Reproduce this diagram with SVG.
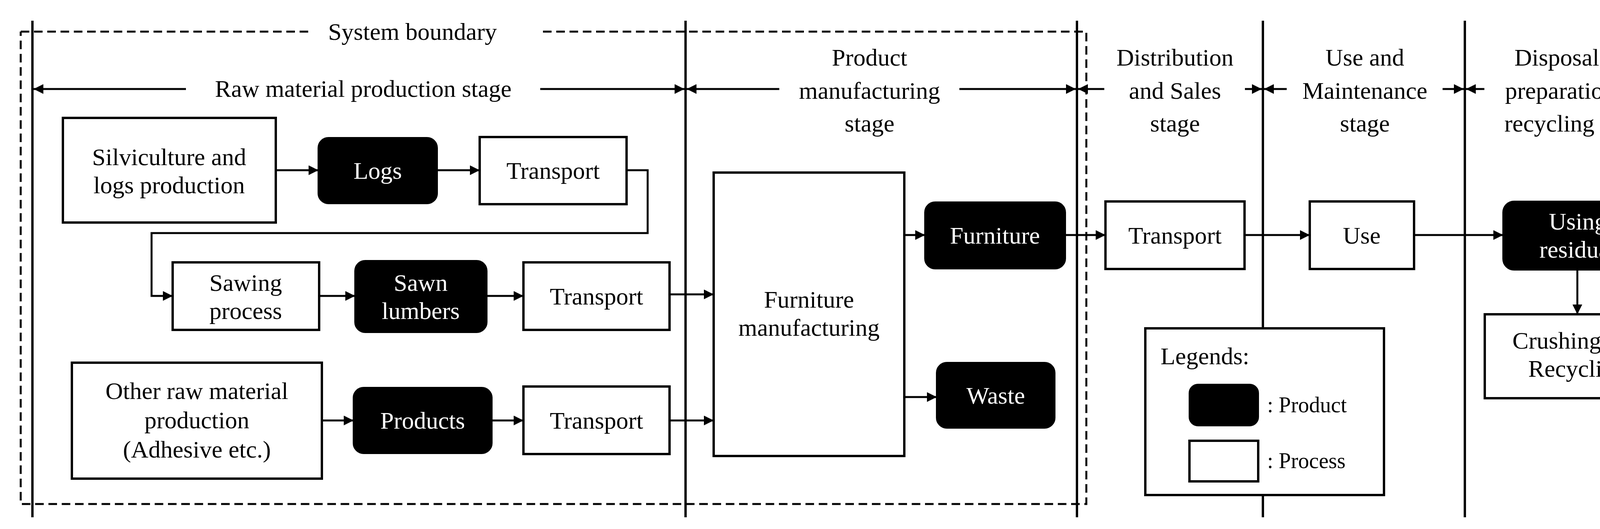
<svg xmlns="http://www.w3.org/2000/svg" width="4369" height="1355" viewBox="0 0 4369 1355">
<style>
text{font-family:"Liberation Serif","Times New Roman",serif;font-size:62px;text-anchor:middle;fill:#000}
.w{fill:#fff}
.proc{fill:#fff;stroke:#000;stroke-width:6}
.prod{fill:#000;stroke:#000;stroke-width:4}
.ln{fill:none;stroke:#000;stroke-width:5}
.dv{stroke:#000;stroke-width:6}
.db{fill:none;stroke:#000;stroke-width:5;stroke-dasharray:22 12}
</style>
<defs>
<marker id="a" viewBox="0 0 10 10" refX="10" refY="5" markerWidth="5" markerHeight="5" orient="auto"><path d="M0,0L10,5L0,10z"/></marker>
</defs>
<rect width="4369" height="1355" fill="#fff"/>
<g id="boundary">
<path class="db" d="M53,81H800M1390,81H2781V1291H53V81"/>
<text x="1056" y="102">System boundary</text>
</g>
<g id="dividers">
<line class="dv" x1="83" y1="53" x2="83" y2="1325"/>
<line class="dv" x1="1755" y1="53" x2="1755" y2="1325"/>
<line class="dv" x1="2757" y1="53" x2="2757" y2="1325"/>
<line class="dv" x1="3233" y1="53" x2="3233" y2="1325"/>
<line class="dv" x1="3750" y1="53" x2="3750" y2="1325"/>
<line class="dv" x1="4328" y1="53" x2="4328" y2="1325"/>
</g>
<g id="stages">
<text x="930" y="248">Raw material production stage</text>
<text x="2226" y="168">Product</text><text x="2226" y="253">manufacturing</text><text x="2226" y="337">stage</text>
<text x="3008" y="168">Distribution</text><text x="3008" y="253">and Sales</text><text x="3008" y="337">stage</text>
<text x="3494" y="168">Use and</text><text x="3494" y="253">Maintenance</text><text x="3494" y="337">stage</text>
<text x="4038" y="168">Disposal and</text><text x="4038" y="253">preparation for</text><text x="4038" y="337">recycling stage</text>
</g>
<g id="connectors" class="ln">
<g marker-end="url(#a)">
<line x1="476" y1="228" x2="86" y2="228"/><line x1="1383" y1="228" x2="1752" y2="228"/>
<line x1="1995" y1="228" x2="1758" y2="228"/><line x1="2456" y1="228" x2="2754" y2="228"/>
<line x1="2827" y1="228" x2="2760" y2="228"/><line x1="3187" y1="228" x2="3230" y2="228"/>
<line x1="3294" y1="228" x2="3236" y2="228"/><line x1="3693" y1="228" x2="3747" y2="228"/>
<line x1="3800" y1="228" x2="3753" y2="228"/><line x1="4279" y1="228" x2="4325" y2="228"/>
<line x1="706" y1="436" x2="815" y2="436"/>
<line x1="1119" y1="436" x2="1228" y2="436"/>
<path d="M1604,436H1658V597H388V758H442"/>
<line x1="817" y1="758" x2="909" y2="758"/>
<line x1="1246" y1="758" x2="1340" y2="758"/>
<line x1="1714" y1="754" x2="1827" y2="754"/>
<line x1="824" y1="1077" x2="905" y2="1077"/>
<line x1="1259" y1="1077" x2="1340" y2="1077"/>
<line x1="1714" y1="1077" x2="1827" y2="1077"/>
<line x1="2315" y1="602" x2="2368" y2="602"/>
<line x1="2315" y1="1017" x2="2398" y2="1017"/>
<line x1="2727" y1="602" x2="2830" y2="602"/>
<line x1="3186" y1="602" x2="3353" y2="602"/>
<line x1="3620" y1="602" x2="3848" y2="602"/>
<line x1="4038" y1="691" x2="4038" y2="805"/>
</g>
</g>
<g id="silviculture"><rect class="proc" x="161" y="302" width="545" height="268"/><text x="433" y="423">Silviculture and</text><text x="433" y="495">logs production</text></g>
<g id="logs"><rect class="prod" x="815" y="353" width="304" height="168" rx="26"/><text class="w" x="967" y="458">Logs</text></g>
<g id="transport1"><rect class="proc" x="1228" y="351" width="376" height="172"/><text x="1416" y="458">Transport</text></g>
<g id="sawing"><rect class="proc" x="442" y="672" width="375" height="173"/><text x="629" y="745">Sawing</text><text x="629" y="817">process</text></g>
<g id="sawn"><rect class="prod" x="909" y="668" width="337" height="183" rx="26"/><text class="w" x="1077" y="745">Sawn</text><text class="w" x="1077" y="817">lumbers</text></g>
<g id="transport2"><rect class="proc" x="1340" y="672" width="374" height="173"/><text x="1527" y="780">Transport</text></g>
<g id="otherraw"><rect class="proc" x="184" y="929" width="640" height="297"/><text x="504" y="1022">Other raw material</text><text x="504" y="1097">production</text><text x="504" y="1172">(Adhesive etc.)</text></g>
<g id="products"><rect class="prod" x="905" y="993" width="354" height="168" rx="26"/><text class="w" x="1082" y="1098">Products</text></g>
<g id="transport3"><rect class="proc" x="1340" y="990" width="374" height="173"/><text x="1527" y="1098">Transport</text></g>
<g id="furnmanu"><rect class="proc" x="1827" y="442" width="488" height="726"/><text x="2071" y="788">Furniture</text><text x="2071" y="860">manufacturing</text></g>
<g id="furniture"><rect class="prod" x="2368" y="518" width="359" height="170" rx="26"/><text class="w" x="2547" y="624">Furniture</text></g>
<g id="waste"><rect class="prod" x="2398" y="929" width="302" height="167" rx="26"/><text class="w" x="2549" y="1034">Waste</text></g>
<g id="transport4"><rect class="proc" x="2830" y="516" width="356" height="173"/><text x="3008" y="624">Transport</text></g>
<g id="use"><rect class="proc" x="3353" y="516" width="267" height="173"/><text x="3486" y="624">Use</text></g>
<g id="residual"><rect class="prod" x="3848" y="516" width="382" height="175" rx="28"/><text class="w" x="4039" y="588">Using</text><text class="w" x="4039" y="660">residual</text></g>
<g id="crushing"><rect class="proc" x="3801" y="805" width="475" height="215"/><text x="4038" y="893">Crushing and</text><text x="4038" y="965">Recycling</text></g>
<g id="legend">
<rect class="proc" x="2932" y="841" width="611" height="427"/>
<text x="2971" y="933" style="text-anchor:start">Legends:</text>
<rect class="prod" x="3045" y="985" width="176" height="105" rx="22"/>
<text x="3244" y="1056" style="text-anchor:start;font-size:56px">: Product</text>
<rect class="proc" x="3045" y="1129" width="176" height="104"/>
<text x="3244" y="1199" style="text-anchor:start;font-size:56px">: Process</text>
</g>
</svg>
